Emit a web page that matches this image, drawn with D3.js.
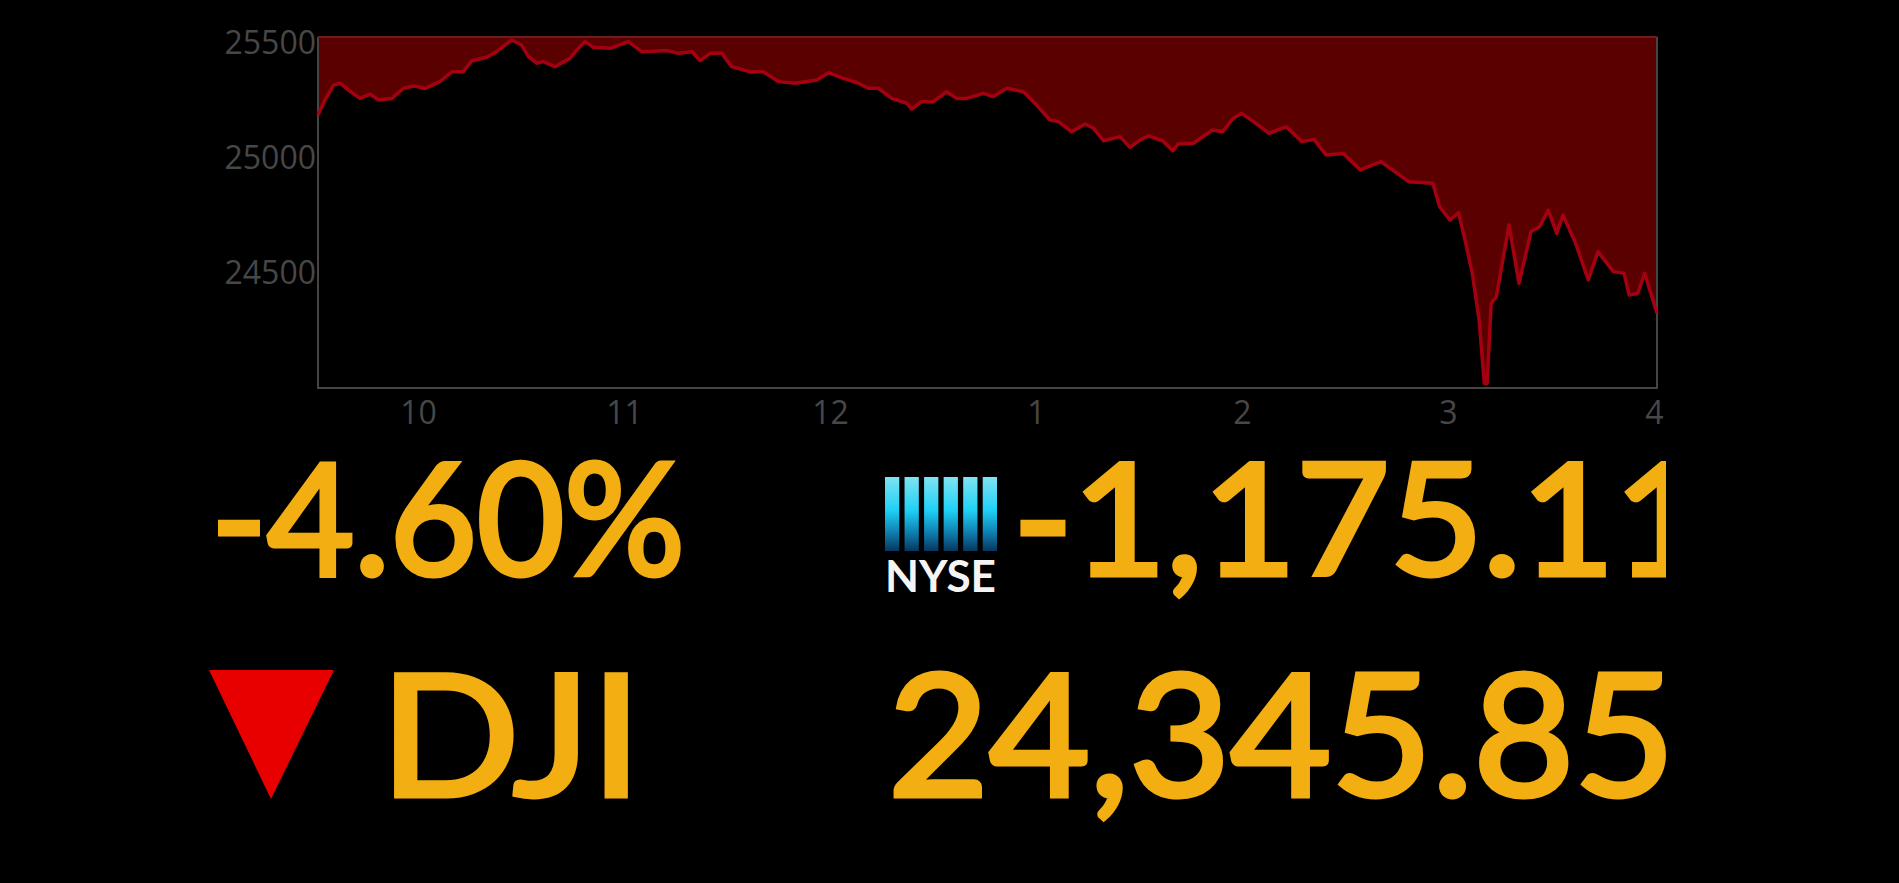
<!DOCTYPE html>
<html>
<head>
<meta charset="utf-8">
<script src="https://cdn.jsdelivr.net/npm/d3@7"></script>
<style>
  html, body { margin: 0; background: #000; overflow: hidden; }
  svg { display: block; }
  .tick text { font-family: 'Open Sans', sans-serif; font-size: 32px; fill: #474747; }
  .big { font-family: Lato, sans-serif; fill: #f3ae12; stroke: #f3ae12; stroke-width: 5px; stroke-linejoin: miter; }
</style>
</head>
<body>
<div id="stage"></div>
<script>
// minutes after the 9:30 open
const minutes = [0,2,4.5,6.4,8.8,12.2,15.2,17.6,21.5,24.9,27.8,31.2,35.5,39,42.3,44.8,49.1,52,56.4,59.3,61.3,63.7,65.6,69,73.4,75.4,77.8,80.2,85.1,90.4,94.3,101.6,105,108.9,
  111.3,114.2,117.6,120.5,125.8,129.7,134.1,138.9,145.3,148.7,153,156.9,160.3,163.2,167.1,171.5,172.9,175.8,179.2,183.1,186,188.9,193.8,196.7,200.6,205.5,209.3,213.2,215.7,219.5,223.4,225.9,228.8,233.6,236.5,
  239.4,241.9,246,249,250.5,255,257.5,260.5,263.5,266.5,269,272.5,277,282,286.6,290.1,293.6,298.6,303.6,309.6,317.7,324.7,326.7,329.7,332.2,334.2,336.2,338.2,339.7,340.5,341.7,343.2,346.9,349.8,353.3,355.8,358.3,360.8,362.6,366.3,370,372.8,377.3,380.4,381.9,384.4,386.4,390];
const prices = [25187,25252,25317,25325,25296,25259,25278,25252,25259,25303,25313,25303,25332,25375,25375,25423,25438,25462,25513,25491,25441,25412,25419,25397,25433,25470,25506,25481,25477,25506,25462,25467,25455,25462,
  25423,25455,25455,25397,25375,25375,25332,25325,25339,25371,25346,25328,25303,25303,25259,25238,25212,25245,25245,25288,25259,25259,25281,25267,25303,25288,25230,25165,25158,25114,25148,25129,25075,25093,25046,
  25078,25096,25075,25032,25061,25064,25090,25122,25114,25172,25194,25158,25107,25136,25071,25081,25013,25020,24948,24984,24897,24890,24788,24730,24762,24636,24499,24296,24020,24020,24368,24397,24709,24455,24680,24701,24774,24672,24752,24629,24470,24593,24506,24499,24404,24412,24499,24325];

const yTicks = [25500, 25000, 24500];
const hourTicks = [30, 90, 150, 210, 270, 330, 390];
const hourLabels = ['10', '11', '12', '1', '2', '3', '4'];
const changePct = '-4.60%';
const changePts = '-1,175.11';
const symbol = 'DJI';
const lastPrice = '24,345.85';
const exchange = 'NYSE';

const W = 1899, H = 883;
const plot = { left: 318, right: 1657, top: 37, bottom: 388 };

const svg = d3.select('#stage').append('svg').attr('width', W).attr('height', H);
const defs = svg.append('defs');

const x = d3.scaleLinear().domain([0, 390]).range([plot.left, plot.right]);
const y = d3.scaleLinear().domain([24000, 25526]).range([plot.bottom, plot.top]);
const points = minutes.map((m, i) => [m, prices[i]]);

// area hangs from the top of the frame down to the line
const area = d3.area().x(d => x(d[0])).y0(plot.top).y1(d => y(d[1]));
const line = d3.line().x(d => x(d[0])).y(d => y(d[1]));

svg.append('path').datum(points).attr('d', area).attr('fill', '#5a0000');

// frame
svg.append('path')
  .attr('d', `M${plot.left},${plot.top}V${plot.bottom}H${plot.right}V${plot.top}`)
  .attr('fill', 'none').attr('stroke', '#454545').attr('stroke-width', 2);
svg.append('line')
  .attr('x1', plot.left).attr('x2', plot.right).attr('y1', plot.top).attr('y2', plot.top)
  .attr('stroke', '#6e1c1c').attr('stroke-width', 2);

svg.append('path').datum(points).attr('d', line)
  .attr('fill', 'none').attr('stroke', '#a50010').attr('stroke-width', 3.5).attr('stroke-linejoin', 'round');

// axes
const yAxis = svg.append('g').attr('transform', `translate(${plot.left},0)`)
  .call(d3.axisLeft(y).tickValues(yTicks).tickSize(0).tickPadding(2).tickFormat(d3.format('d')));
yAxis.select('.domain').remove();

const xAxis = svg.append('g').attr('transform', `translate(0,${plot.bottom})`)
  .call(d3.axisBottom(x).tickValues(hourTicks).tickSize(0).tickPadding(13).tickFormat((d, i) => hourLabels[i]));
xAxis.select('.domain').remove();
xAxis.selectAll('text').attr('dx', -3);

// readout
const rows = { top: 575, bottom: 796 };
const clipRight = 1666;

defs.append('clipPath').attr('id', 'ptsClip').append('rect')
  .attr('x', 1000).attr('y', rows.top - 160).attr('width', clipRight - 1000).attr('height', 240);

function bigText(txt, xPos, yPos, size, len) {
  return svg.append('text').attr('class', 'big')
    .attr('x', xPos).attr('y', yPos).attr('font-size', size)
    .attr('textLength', len).attr('lengthAdjust', 'spacingAndGlyphs')
    .text(txt);
}

bigText(changePct, 211, rows.top, 155, 474);
bigText(changePts, 1013, rows.top, 155, 695).attr('clip-path', 'url(#ptsClip)');
bigText(symbol, 380, rows.bottom, 168, 262);
bigText(lastPrice, 888, rows.bottom, 168, 787);

// down arrow
svg.append('path')
  .attr('d', d3.line()([[209, 670], [334, 670], [271, 799]]) + 'Z')
  .attr('fill', '#e80000');

// exchange logo
const grad = defs.append('linearGradient').attr('id', 'logoGrad').attr('x1', 0).attr('x2', 0).attr('y1', 0).attr('y2', 1);
[[0, '#7fe3f2'], [0.45, '#1fd0f6'], [0.75, '#0f7fb0'], [1, '#06365e']].forEach(([o, c]) => {
  grad.append('stop').attr('offset', o).attr('stop-color', c);
});
const barX = d3.scaleBand().domain(d3.range(6)).range([885, 997]).paddingInner(0.27);
svg.append('g').selectAll('rect').data(d3.range(6)).enter().append('rect')
  .attr('x', d => barX(d)).attr('y', 477).attr('width', barX.bandwidth()).attr('height', 74)
  .attr('fill', 'url(#logoGrad)');
svg.append('text').attr('x', 885).attr('y', 592)
  .attr('font-family', 'Lato, sans-serif').attr('font-weight', 700).attr('font-size', 44)
  .attr('fill', '#f4f4f4').attr('textLength', 111).attr('lengthAdjust', 'spacingAndGlyphs')
  .text(exchange);
</script>
</body>
</html>
